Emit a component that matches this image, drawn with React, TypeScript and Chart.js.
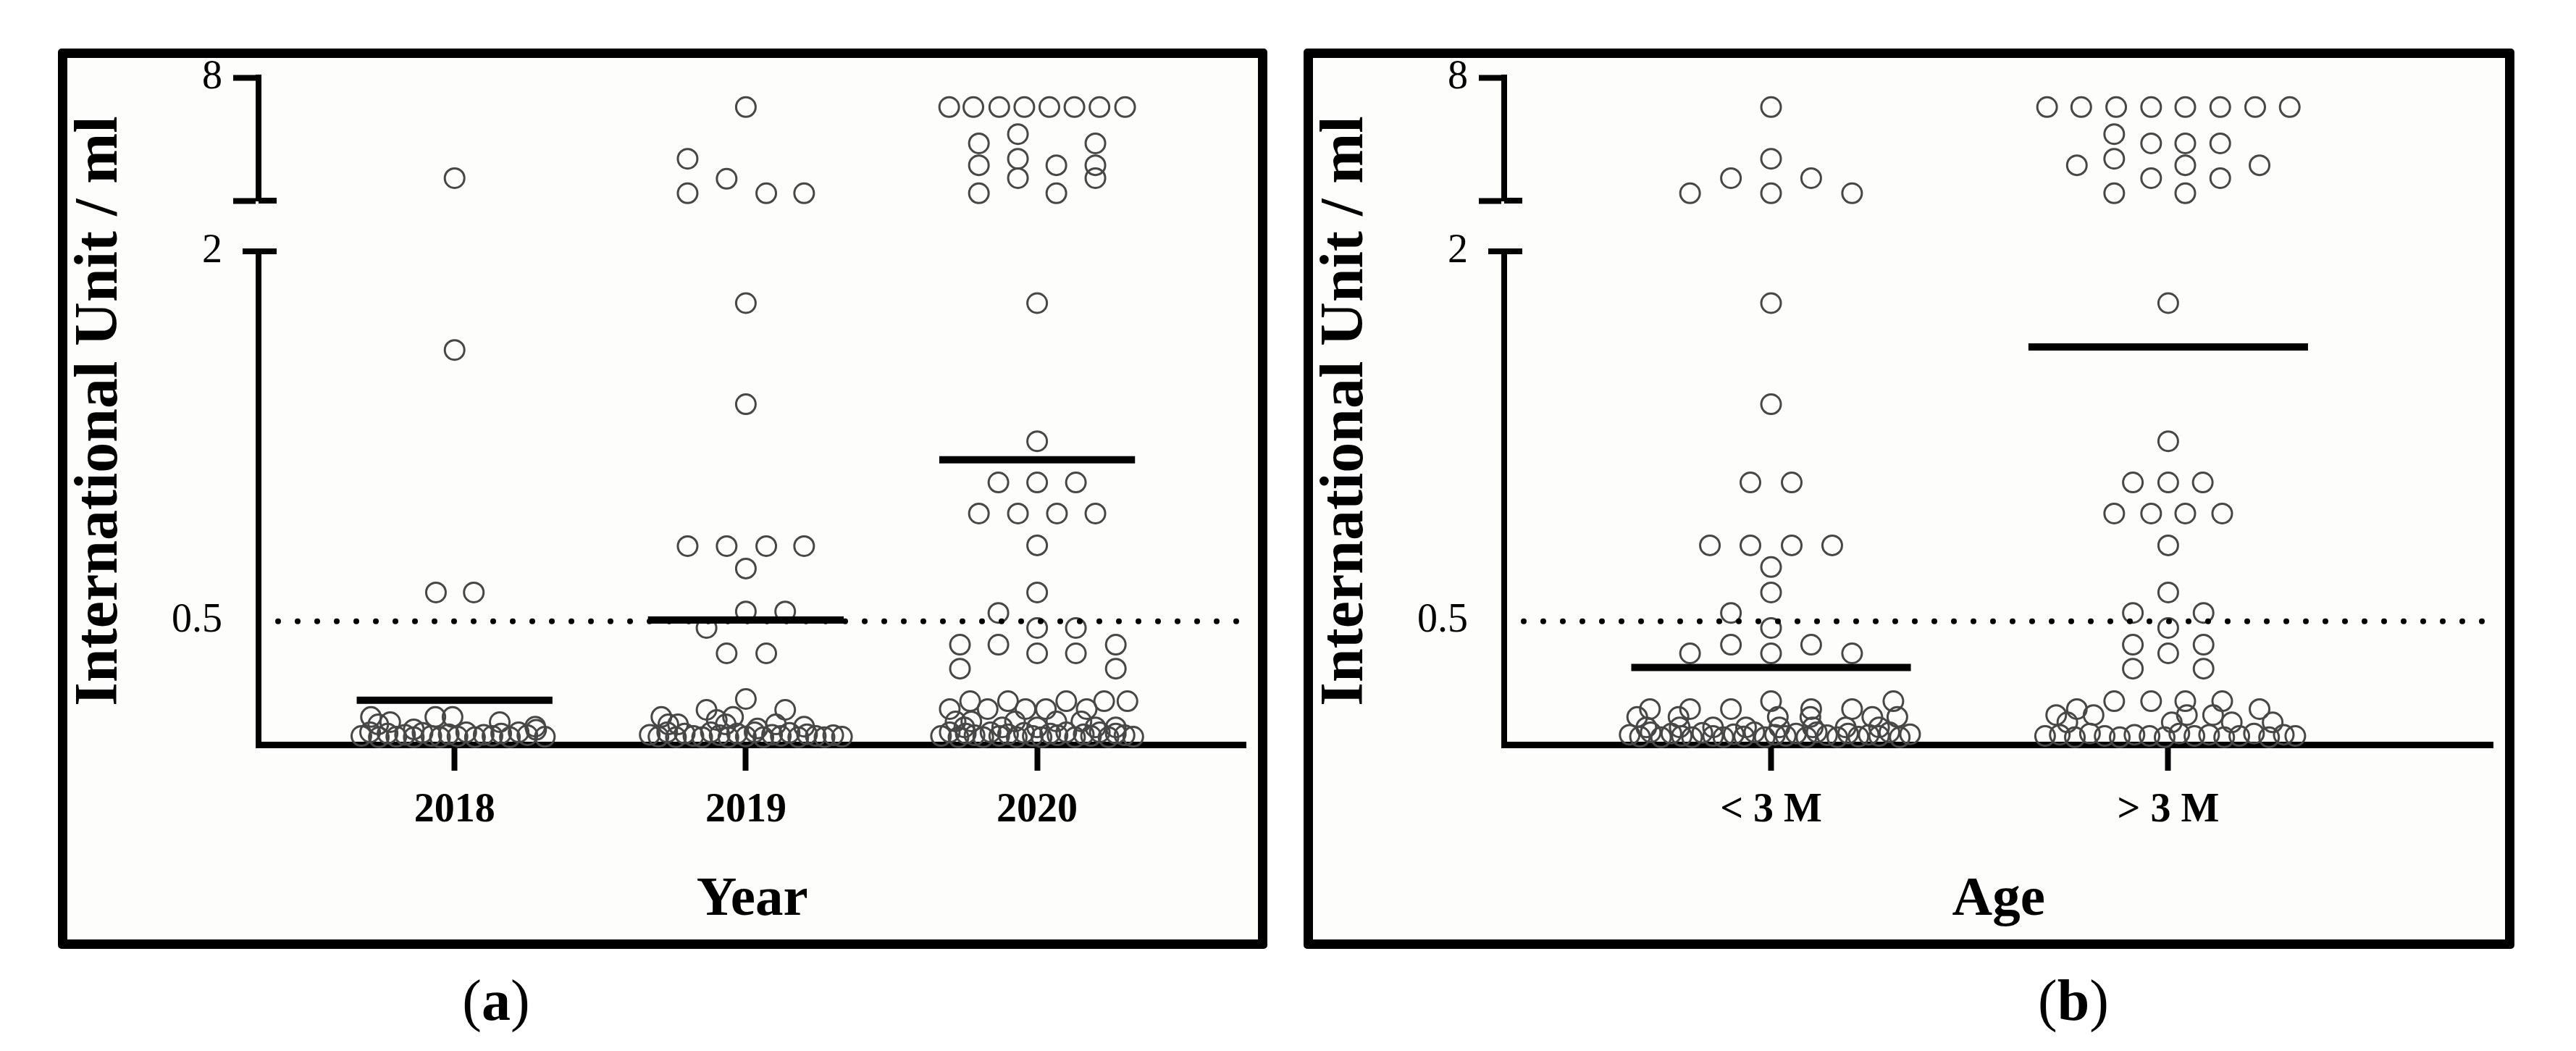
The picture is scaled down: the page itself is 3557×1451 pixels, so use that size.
import React, { useEffect, useRef } from "react";
import { Chart, registerables } from "chart.js";

Chart.register(...registerables);

const SERIF = "'Liberation Serif', 'Times New Roman', Times, serif";

// ---------------- Panel (a): by year ----------------
const yearCategories = ["2018", "2019", "2020"];
const yearMeans = [0.18, 0.505, 1.155];
// each point: [horizontal scatter offset from the category centre, value in IU/ml]
const points2018: [number, number][] = [
  [0, 4.73], [0, 1.6], [-0.064, 0.617], [0.066, 0.617],
  [-0.287, 0.112], [-0.221, 0.091], [-0.262, 0.082], [-0.066, 0.112], [-0.007, 0.112],
  [0.155, 0.091], [0.277, 0.073], [-0.14, 0.062],
  [-0.32, 0.035], [-0.29, 0.05], [-0.26, 0.03], [-0.23, 0.045], [-0.2, 0.032], [-0.17, 0.04],
  [-0.14, 0.03], [-0.11, 0.048], [-0.08, 0.035], [-0.05, 0.03], [-0.02, 0.042], [0.01, 0.033],
  [0.04, 0.05], [0.07, 0.03], [0.1, 0.04], [0.13, 0.035], [0.16, 0.045], [0.19, 0.03],
  [0.22, 0.05], [0.25, 0.038], [0.28, 0.06], [0.31, 0.032],
];
const points2019: [number, number][] = [
  [0, 7.04], [-0.2, 5.36], [-0.066, 4.71], [-0.2, 4.24], [0.07, 4.24], [0.2, 4.24],
  [0, 1.79], [0, 1.38], [-0.2, 0.805], [-0.066, 0.805], [0.07, 0.805], [0.2, 0.805],
  [0, 0.714], [0, 0.54], [0.135, 0.54], [-0.135, 0.473], [-0.066, 0.37], [0.07, 0.37],
  [0, 0.185], [-0.135, 0.141], [0.135, 0.141], [-0.29, 0.112], [-0.044, 0.112],
  [-0.266, 0.082], [-0.233, 0.082], [-0.069, 0.082], [0.103, 0.082], [0.2, 0.073],
  [-0.1, 0.1], [0.04, 0.065],
  [-0.33, 0.04], [-0.3, 0.032], [-0.27, 0.05], [-0.24, 0.03], [-0.21, 0.045], [-0.18, 0.035],
  [-0.15, 0.03], [-0.12, 0.05], [-0.09, 0.038], [-0.06, 0.03], [-0.03, 0.045], [0, 0.033],
  [0.03, 0.05], [0.06, 0.03], [0.09, 0.04], [0.12, 0.035], [0.15, 0.048], [0.18, 0.03],
  [0.21, 0.042], [0.24, 0.035], [0.27, 0.03], [0.3, 0.038], [0.33, 0.032],
];
const points2020: [number, number][] = [
  [-0.302, 7.04], [-0.219, 7.04], [-0.13, 7.04], [-0.044, 7.04], [0.042, 7.04], [0.128, 7.04],
  [0.214, 7.04], [0.302, 7.04],
  [-0.066, 6.16], [-0.2, 5.86], [0.2, 5.86], [-0.066, 5.36], [-0.2, 5.15], [0.066, 5.15],
  [0.2, 5.15], [-0.066, 4.73], [0.2, 4.73], [-0.2, 4.24], [0.066, 4.24],
  [0, 1.79], [0, 1.23], [-0.133, 1.063], [0, 1.063], [0.133, 1.063],
  [-0.2, 0.937], [-0.066, 0.937], [0.068, 0.937], [0.2, 0.937], [0, 0.808], [0, 0.617],
  [-0.133, 0.534], [0, 0.473], [0.133, 0.473], [-0.265, 0.405], [-0.133, 0.405], [0.27, 0.405],
  [0, 0.37], [0.133, 0.37], [-0.265, 0.308], [0.27, 0.308],
  [-0.23, 0.176], [-0.1, 0.176], [0.1, 0.176], [0.23, 0.176], [0.31, 0.176],
  [-0.3, 0.144], [-0.17, 0.144], [-0.04, 0.144], [0.03, 0.144], [0.17, 0.144],
  [-0.28, 0.094], [-0.226, 0.094], [-0.076, 0.094], [0.066, 0.094], [0.152, 0.094],
  [-0.25, 0.07], [-0.12, 0.07], [0, 0.07], [0.2, 0.07], [0.27, 0.07],
  [-0.33, 0.035], [-0.3, 0.05], [-0.27, 0.03], [-0.245, 0.045], [-0.215, 0.038], [-0.185, 0.03],
  [-0.16, 0.05], [-0.13, 0.035], [-0.1, 0.042], [-0.07, 0.03], [-0.045, 0.048], [-0.015, 0.035],
  [0.015, 0.03], [0.045, 0.045], [0.07, 0.038], [0.1, 0.05], [0.13, 0.03], [0.16, 0.042],
  [0.185, 0.035], [0.215, 0.05], [0.245, 0.03], [0.27, 0.045], [0.3, 0.038], [0.33, 0.032],
];

// ---------------- Panel (b): by age ----------------
const ageCategories = ["< 3 M", "> 3 M"];
const ageMeans = [0.313, 1.612];
const pointsUnder3M: [number, number][] = [
  [0, 7.04], [0, 5.36], [-0.101, 4.73], [0.101, 4.73], [0, 4.24], [-0.204, 4.24], [0.204, 4.24],
  [0, 1.79], [0, 1.38], [-0.052, 1.063], [0.052, 1.063],
  [-0.154, 0.808], [-0.052, 0.808], [0.052, 0.808], [0.154, 0.808], [0, 0.72], [0, 0.617],
  [-0.101, 0.534], [0, 0.473], [-0.101, 0.405], [0.101, 0.405], [-0.204, 0.37], [0, 0.37], [0.204, 0.37],
  [0, 0.176], [0.308, 0.176],
  [-0.305, 0.144], [-0.204, 0.144], [-0.101, 0.144], [0.101, 0.144], [0.204, 0.144],
  [-0.337, 0.112], [-0.233, 0.112], [0.017, 0.112], [0.099, 0.112], [0.255, 0.112], [0.318, 0.112],
  [-0.314, 0.07], [-0.23, 0.07], [-0.146, 0.07], [-0.063, 0.07], [0.021, 0.07], [0.105, 0.07],
  [0.188, 0.07], [0.272, 0.07],
  [-0.356, 0.04], [-0.33, 0.032], [-0.303, 0.05], [-0.277, 0.03], [-0.251, 0.045], [-0.225, 0.035],
  [-0.199, 0.03], [-0.173, 0.048], [-0.146, 0.035], [-0.12, 0.03], [-0.094, 0.042], [-0.068, 0.033],
  [-0.042, 0.05], [-0.016, 0.03], [0.01, 0.04], [0.037, 0.035], [0.063, 0.045], [0.089, 0.03],
  [0.115, 0.05], [0.141, 0.038], [0.167, 0.03], [0.194, 0.045], [0.22, 0.032], [0.246, 0.04],
  [0.272, 0.035], [0.298, 0.05], [0.324, 0.03], [0.35, 0.042],
];
const pointsOver3M: [number, number][] = [
  [-0.305, 7.04], [-0.219, 7.04], [-0.131, 7.04], [-0.043, 7.04], [0.043, 7.04], [0.131, 7.04],
  [0.219, 7.04], [0.306, 7.04],
  [-0.136, 6.16], [-0.043, 5.86], [0.043, 5.86], [0.131, 5.86], [-0.136, 5.36],
  [-0.23, 5.15], [0.043, 5.15], [0.23, 5.15], [-0.043, 4.73], [0.131, 4.73], [-0.136, 4.24], [0.043, 4.24],
  [0, 1.79], [0, 1.23], [-0.089, 1.063], [0, 1.063], [0.087, 1.063],
  [-0.136, 0.937], [-0.043, 0.937], [0.043, 0.937], [0.136, 0.937], [0, 0.808], [0, 0.617],
  [-0.089, 0.534], [0.089, 0.534], [0, 0.473], [-0.089, 0.405], [0.089, 0.405], [0, 0.37],
  [-0.089, 0.308], [0.089, 0.308],
  [-0.136, 0.176], [-0.043, 0.176], [0.043, 0.176], [0.136, 0.176], [-0.23, 0.144], [0.23, 0.144],
  [-0.282, 0.12], [-0.188, 0.12], [0.047, 0.12], [0.113, 0.12], [-0.254, 0.09], [0.009, 0.09],
  [0.16, 0.09], [0.263, 0.09],
  [-0.31, 0.035], [-0.273, 0.04], [-0.235, 0.03], [-0.197, 0.045], [-0.16, 0.035], [-0.122, 0.03],
  [-0.085, 0.04], [-0.047, 0.035], [-0.009, 0.03], [0.028, 0.045], [0.066, 0.035], [0.103, 0.04],
  [0.141, 0.03], [0.179, 0.035], [0.216, 0.045], [0.254, 0.03], [0.291, 0.04], [0.32, 0.035],
];

// ---------------- shared axis definitions ----------------
const thresholdValue = 0.5;
const lowerRange: [number, number] = [0, 2];
const upperRange: [number, number] = [4, 8];
const lowerTickValues = [0, 0.5, 2];
const lowerTickLabels = ["", "0.5", "2"];
const upperTickValues = [4, 8];
const upperTickLabels = ["", "8"];
const yAxisTitle = "International Unit / ml";

type PanelSpec = {
  left: number;
  top: number;
  width: number;
  height: number;
  categories: string[];
  groups: [number, number][][];
  means: number[];
  meanHalfWidth: number;
  xRange: [number, number];
  xTitle: string;
};

const BORDER = 13;
const Y_AXIS_W = 264;
const X_AXIS_H = 269;
const TOP_PAD = 27;

const decorPlugin = {
  id: "decor",
  afterDatasetsDraw(chart: any) {
    const { ctx } = chart;
    const yHigh = chart.scales.yHigh;
    const yLow = chart.scales.yLow;
    const axisX = yLow.right;
    ctx.save();
    ctx.strokeStyle = "#000";
    ctx.lineWidth = 8;
    ctx.lineCap = "butt";
    // bracket foot of the upper segment (extends right of the axis)
    const yb = yHigh.getPixelForValue(upperRange[0]);
    ctx.beginPath();
    ctx.moveTo(axisX, yb);
    ctx.lineTo(axisX + 25, yb);
    ctx.stroke();
    // tick at the top of the lower segment (both sides)
    const y2 = yLow.getPixelForValue(lowerRange[1]);
    ctx.beginPath();
    ctx.moveTo(axisX - 22, y2);
    ctx.lineTo(axisX + 25, y2);
    ctx.stroke();
    // rotated y-axis title
    ctx.translate(68, (yHigh.top + yLow.bottom) / 2);
    ctx.rotate(-Math.PI / 2);
    ctx.font = `bold 84px ${SERIF}`;
    ctx.fillStyle = "#000";
    ctx.textAlign = "center";
    ctx.textBaseline = "alphabetic";
    ctx.fillText(yAxisTitle, 0, 0);
    ctx.restore();
  },
};

function Panel({ spec }: { spec: PanelSpec }) {
  const ref = useRef<HTMLCanvasElement | null>(null);
  const innerW = spec.width - 2 * BORDER;
  const innerH = spec.height - 2 * BORDER;

  useEffect(() => {
    const canvas = ref.current;
    if (!canvas) return;
    const datasets: any[] = [];
    datasets.push({
      data: [
        { x: spec.xRange[0], y: thresholdValue },
        { x: spec.xRange[1], y: thresholdValue },
      ],
      yAxisID: "yLow",
      showLine: true,
      borderColor: "#000",
      borderWidth: 8,
      borderDash: [0, 27],
      borderCapStyle: "round",
      pointRadius: 0,
      clip: false,
    });
    spec.means.forEach((m, i) => {
      datasets.push({
        data: [
          { x: i - spec.meanHalfWidth, y: m },
          { x: i + spec.meanHalfWidth, y: m },
        ],
        yAxisID: "yLow",
        showLine: true,
        borderColor: "#000",
        borderWidth: 10,
        borderCapStyle: "butt",
        pointRadius: 0,
        clip: false,
      });
    });
    const pointStyle = {
      showLine: false,
      pointRadius: 13.5,
      pointBorderWidth: 3,
      borderColor: "#474747",
      pointBorderColor: "#474747",
      backgroundColor: "rgba(0,0,0,0)",
      pointBackgroundColor: "rgba(0,0,0,0)",
      clip: false,
    };
    spec.groups.forEach((pts, i) => {
      const lower = pts.filter((p) => p[1] <= lowerRange[1]).map((p) => ({ x: i + p[0], y: p[1] }));
      const upper = pts.filter((p) => p[1] > lowerRange[1]).map((p) => ({ x: i + p[0], y: p[1] }));
      datasets.push({ ...pointStyle, data: lower, yAxisID: "yLow" });
      datasets.push({ ...pointStyle, data: upper, yAxisID: "yHigh" });
    });

    const tickFont = { family: SERIF, size: 56, lineHeight: 0.3 };
    const chart = new Chart(canvas, {
      type: "scatter",
      data: { datasets },
      plugins: [decorPlugin],
      options: {
        animation: false,
        responsive: false,
        maintainAspectRatio: false,
        devicePixelRatio: 1,
        events: [],
        layout: { padding: { top: TOP_PAD, left: 0, right: 0, bottom: 0 } },
        plugins: { legend: { display: false }, tooltip: { enabled: false }, title: { display: false } },
        scales: {
          x: {
            type: "linear",
            position: "bottom",
            min: spec.xRange[0],
            max: spec.xRange[1],
            afterFit: (s: any) => {
              s.height = X_AXIS_H;
            },
            afterBuildTicks: (s: any) => {
              s.ticks = spec.categories.map((_, i) => ({ value: i }));
            },
            ticks: {
              callback: (v: any) => spec.categories[v] ?? "",
              font: { family: SERIF, size: 56, weight: "bold" },
              color: "#000",
              padding: 22,
              autoSkip: false,
              maxRotation: 0,
            },
            grid: {
              display: true,
              drawOnChartArea: false,
              drawTicks: true,
              tickLength: 36,
              tickWidth: 8,
              tickColor: "#000",
            },
            border: { display: true, width: 9, color: "#000" },
            title: {
              display: true,
              text: spec.xTitle,
              font: { family: SERIF, size: 77, weight: "bold" },
              color: "#000",
              padding: { top: 0, bottom: 8 },
            },
          },
          yHigh: {
            axis: "y",
            type: "linear",
            position: "left",
            stack: "ystack",
            stackWeight: 170,
            weight: 3,
            min: upperRange[0],
            max: upperRange[1],
            afterFit: (s: any) => {
              s.width = Y_AXIS_W;
            },
            afterBuildTicks: (s: any) => {
              s.ticks = upperTickValues.map((v) => ({ value: v }));
            },
            ticks: {
              callback: (v: any) => upperTickLabels[upperTickValues.indexOf(v)] ?? "",
              font: tickFont,
              color: "#000",
              padding: 15,
            },
            grid: { display: true, drawOnChartArea: false, tickLength: 35, tickWidth: 8, tickColor: "#000" },
            border: { display: true, width: 8, color: "#000" },
          },
          yGap: {
            axis: "y",
            type: "linear",
            position: "left",
            stack: "ystack",
            stackWeight: 70,
            weight: 2,
            min: 0,
            max: 1,
            afterFit: (s: any) => {
              s.width = Y_AXIS_W;
            },
            ticks: { display: false },
            grid: { display: false },
            border: { display: false },
          },
          yLow: {
            axis: "y",
            type: "linear",
            position: "left",
            stack: "ystack",
            stackWeight: 681,
            weight: 1,
            min: lowerRange[0],
            max: lowerRange[1],
            afterFit: (s: any) => {
              s.width = Y_AXIS_W;
            },
            afterBuildTicks: (s: any) => {
              s.ticks = lowerTickValues.map((v) => ({ value: v }));
            },
            ticks: {
              callback: (v: any) => lowerTickLabels[lowerTickValues.indexOf(v)] ?? "",
              font: tickFont,
              color: "#000",
              padding: 15,
            },
            grid: {
              display: true,
              drawOnChartArea: false,
              tickLength: 35,
              tickWidth: 8,
              tickColor: "rgba(0,0,0,0)",
            },
            border: { display: true, width: 8, color: "#000" },
          },
        },
      } as any,
    });
    return () => chart.destroy();
  }, [spec]);

  return (
    <div
      style={{
        position: "absolute",
        left: spec.left,
        top: spec.top,
        width: spec.width,
        height: spec.height,
        boxSizing: "border-box",
        border: `${BORDER}px solid #000`,
        borderRadius: 5,
        background: "#fdfdfb",
      }}
    >
      <canvas
        ref={ref}
        width={innerW}
        height={innerH}
        style={{ display: "block", width: innerW, height: innerH }}
      />
    </div>
  );
}

const panelA: PanelSpec = {
  left: 80,
  top: 67,
  width: 1670,
  height: 1243,
  categories: yearCategories,
  groups: [points2018, points2019, points2020],
  means: yearMeans,
  meanHalfWidth: 0.336,
  xRange: [-0.673, 2.717],
  xTitle: "Year",
};

const panelB: PanelSpec = {
  left: 1800,
  top: 67,
  width: 1672,
  height: 1243,
  categories: ageCategories,
  groups: [pointsUnder3M, pointsOver3M],
  means: ageMeans,
  meanHalfWidth: 0.352,
  xRange: [-0.672, 1.818],
  xTitle: "Age",
};

function SubLabel({ cx, letter }: { cx: number; letter: string }) {
  return (
    <div
      style={{
        position: "absolute",
        left: cx - 100,
        top: 1341,
        width: 200,
        textAlign: "center",
        fontFamily: SERIF,
        fontSize: 80,
        lineHeight: "80px",
        color: "#000",
      }}
    >
      (<b>{letter}</b>)
    </div>
  );
}

export default function App() {
  return (
    <div style={{ position: "absolute", left: 0, top: 0, width: 3557, height: 1451, background: "#fff" }}>
      <Panel spec={panelA} />
      <Panel spec={panelB} />
      <SubLabel cx={685} letter="a" />
      <SubLabel cx={2863} letter="b" />
    </div>
  );
}
